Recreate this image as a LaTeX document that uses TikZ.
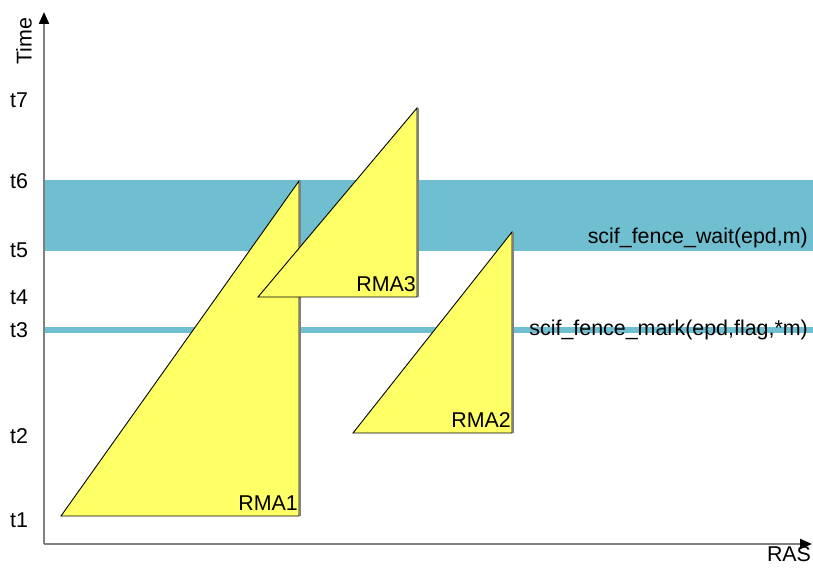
\documentclass[tikz,border=0pt]{standalone}
\usepackage{fontspec}
\setmainfont{Liberation Sans}
\usetikzlibrary{arrows.meta}
\definecolor{fenceblue}{HTML}{70BFD0}
\definecolor{rmayellow}{HTML}{FFFF66}
\definecolor{axisgray}{HTML}{808080}

\begin{document}
\begin{tikzpicture}[x=1pt,y=1pt,font=\fontsize{21.4}{25}\selectfont,
  axis/.style={draw=axisgray, line width=2.2pt, -{Triangle[black,length=12pt,width=10pt]}},
  rma/.style={draw=black, fill=rmayellow, line width=0.9pt, line join=miter},
  edge/.style={draw=axisgray, line width=1.2pt},
  tick/.style={anchor=center, inner sep=0pt},
  lbl/.style={anchor=south east, inner sep=0pt}]
            \useasboundingbox (0,0) rectangle (813,567);

            \coordinate (O) at (44,23);
            \coordinate (ytop) at (44,555);
            \coordinate (xend) at (812,23);

            % fences
            \fill[fenceblue] (45,316) rectangle (813,387);
            \fill[fenceblue] (45,234) rectangle (813,240);

            \draw[axis] (O) -- (ytop);
            \draw[axis] (O) -- (xend);

            % rma triangles
            \coordinate (a1) at (61,51);   \coordinate (b1) at (299,51);  \coordinate (c1) at (299,386);
            \coordinate (a3) at (258,270); \coordinate (b3) at (417,270); \coordinate (c3) at (417,459);
            \coordinate (a2) at (353,134); \coordinate (b2) at (512,134); \coordinate (c2) at (512,335);

            \filldraw[rma] (a1) -- (b1) -- (c1) -- cycle;
            \draw[edge] ([xshift=1pt]b1) -- ([xshift=1pt]c1);
            \filldraw[rma] (a3) -- (b3) -- (c3) -- cycle;
            \draw[edge] ([xshift=1pt]b3) -- ([xshift=1pt]c3);
            \filldraw[rma] (a2) -- (b2) -- (c2) -- cycle;
            \draw[edge] ([xshift=1pt]b2) -- ([xshift=1pt]c2);

            \node[lbl] (r1) at ([xshift=-1pt,yshift=5pt]b1) {RMA1};
            \node[lbl] (r3) at ([xshift=-1pt,yshift=5pt]b3) {RMA3};
            \node[lbl] (r2) at ([xshift=-1pt,yshift=5pt]b2) {RMA2};

            \node[anchor=east, inner sep=0pt] (wait) at (808,329) {scif\_fence\_wait(epd,m)};
            \node[anchor=east, inner sep=0pt] (mark) at (808,237) {scif\_fence\_mark(epd,flag,*m)};

            % axis labels
            \node[tick, rotate=90] (time) at (24,526) {Time};
            \node[tick] (ras) at (789,13) {RAS};
            \node[tick] (t7) at (19,467) {t7};
            \node[tick] (t6) at (19,386) {t6};
            \node[tick] (t5) at (19,317) {t5};
            \node[tick] (t4) at (19,270) {t4};
            \node[tick] (t3) at (19,237) {t3};
            \node[tick] (t2) at (19,131) {t2};
            \node[tick] (t1) at (19,47) {t1};
          \end{tikzpicture}
\end{document}
